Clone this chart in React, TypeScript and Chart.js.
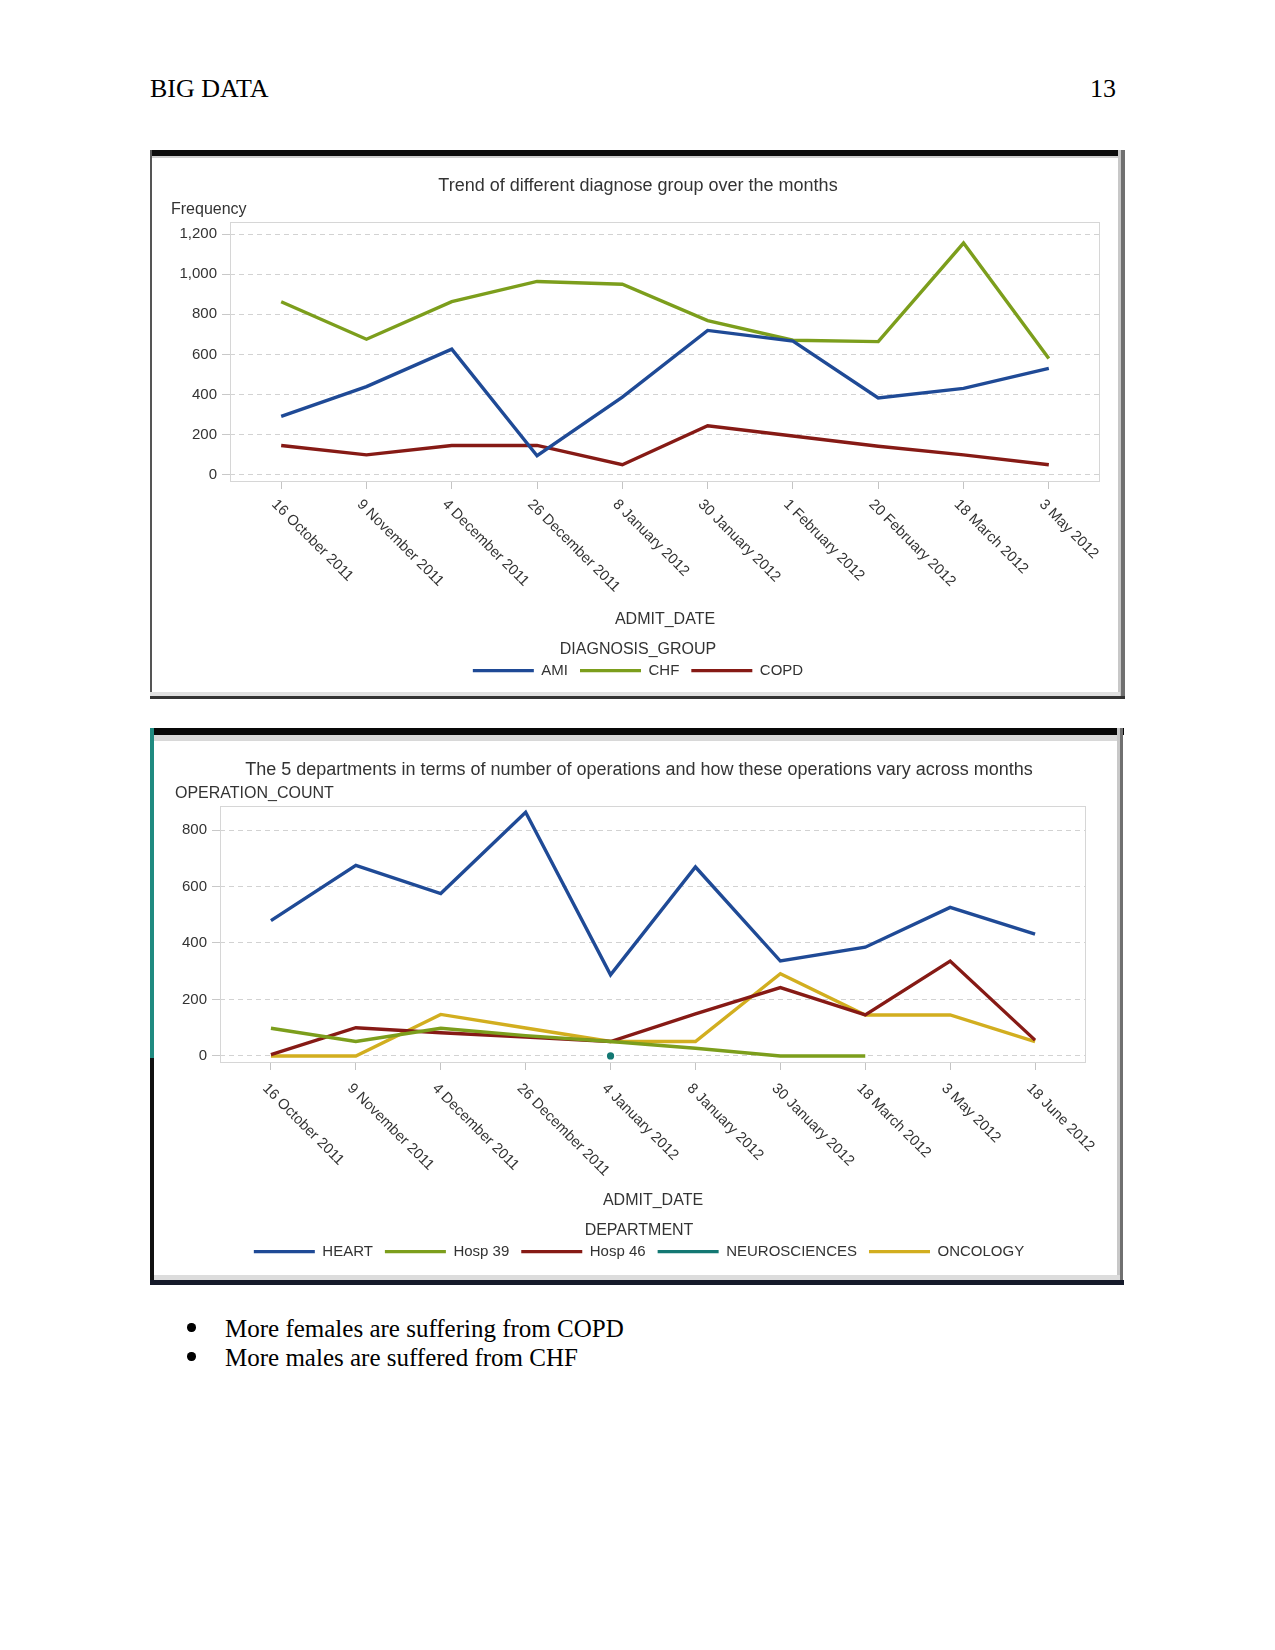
import React, { useEffect, useRef } from 'react';
import { Chart, registerables } from 'chart.js';

Chart.register(...registerables);

const SANS = '"Liberation Sans", Arial, sans-serif';
const SERIF = '"Liberation Serif", "Times New Roman", serif';

const HEADER_LEFT = 'BIG DATA';
const PAGE_NUMBER = '13';
const BULLETS = ['More females are suffering from COPD', 'More males are suffered from CHF'];

// ---- Chart 1 data ----
const CHART1_TITLE = 'Trend of different diagnose group over the months';
const CHART1_Y_LABEL = 'Frequency';
const CHART1_X_LABEL = 'ADMIT_DATE';
const CHART1_LEGEND_TITLE = 'DIAGNOSIS_GROUP';
const CHART1_DATES = [
  '16 October 2011', '9 November 2011', '4 December 2011', '26 December 2011', '8 January 2012',
  '30 January 2012', '1 February 2012', '20 February 2012', '18 March 2012', '3 May 2012',
];
const CHART1_Y_TICKS = [0, 200, 400, 600, 800, 1000, 1200];
const AMI = [292, 440, 627, 96, 388, 720, 667, 384, 431, 531];
const CHF = [863, 676, 863, 964, 950, 769, 671, 664, 1155, 580];
const COPD = [147, 100, 147, 147, 51, 245, 194, 143, 100, 51];

// ---- Chart 2 data ----
const CHART2_TITLE = 'The 5 departments in terms of number of operations and how these operations vary across months';
const CHART2_Y_LABEL = 'OPERATION_COUNT';
const CHART2_X_LABEL = 'ADMIT_DATE';
const CHART2_LEGEND_TITLE = 'DEPARTMENT';
const CHART2_DATES = [
  '16 October 2011', '9 November 2011', '4 December 2011', '26 December 2011', '4 January 2012',
  '8 January 2012', '30 January 2012', '18 March 2012', '3 May 2012', '18 June 2012',
];
const CHART2_Y_TICKS = [0, 200, 400, 600, 800];
const HEART = [479, 675, 575, 863, 287, 669, 336, 385, 526, 431];
const HOSP39 = [98, 51, 98, 72, 51, 27, 0, 0, null, null];
const HOSP46 = [5, 100, 82, 67, 51, 149, 242, 145, 336, 56];
const NEUROSCIENCES = [null, null, null, null, 0, null, null, null, null, null];
const ONCOLOGY = [0, 0, 147, 99, 51, 51, 291, 145, 145, 51];

const BLUE = '#1f4a96';
const GREEN = '#7c9e1c';
const RED = '#861a15';
const TEAL = '#137873';
const GOLD = '#d2ae1f';

type Series = { label: string; values: (number | null)[]; color: string; point?: boolean };

const decorPlugin = {
  id: 'sasDecor',
  beforeDatasetsDraw(chart: any) {
    const { ctx, chartArea: a } = chart;
    ctx.save();
    ctx.strokeStyle = '#d6d6d6';
    ctx.lineWidth = 1;
    ctx.strokeRect(a.left + 0.5, a.top + 0.5, a.right - a.left - 1, a.bottom - a.top - 1);
    ctx.restore();
  },
  afterDraw(chart: any, _args: any, opts: any) {
    const { ctx, chartArea: a } = chart;
    const xs = chart.scales.x;
    ctx.save();
    ctx.fillStyle = '#333';
    ctx.font = `14.7px ${SANS}`;
    ctx.textAlign = 'left';
    ctx.textBaseline = 'top';
    (opts.labels as string[]).forEach((lab, i) => {
      const x = xs.getPixelForValue(i);
      ctx.save();
      ctx.translate(x + opts.dx, a.bottom + opts.dy);
      ctx.rotate((45 * Math.PI) / 180);
      ctx.fillText(lab, 0, 0);
      ctx.restore();
    });
    ctx.font = `16px ${SANS}`;
    ctx.textBaseline = 'middle';
    ctx.fillText(opts.yLabel, a.left + opts.yLabelDx, a.top + opts.yLabelDy);
    ctx.restore();
  },
};

type PanelProps = {
  box: { left: number; top: number; width: number; height: number };
  title: string;
  yLabel: string;
  xLabel: string;
  legendTitle: string;
  dates: string[];
  series: Series[];
  yMin: number;
  yMax: number;
  yTicks: number[];
  padLeft: number;
  padRight: number;
  padBottom: number;
  yAxisWidth: number;
  rightSpace: number;
  yLabelDx: number;
  labelDx: number;
  labelDy: number;
};

function ChartPanel(p: PanelProps) {
  const ref = useRef<HTMLCanvasElement | null>(null);
  useEffect(() => {
    if (!ref.current) return;
    const scales: any = {
      x: {
        type: 'linear',
        min: -0.6,
        max: p.dates.length - 1 + 0.6,
        afterBuildTicks: (s: any) => {
          s.ticks = p.dates.map((_, i) => ({ value: i }));
        },
        afterFit: (s: any) => {
          s.height = 160;
        },
        grid: { drawOnChartArea: false, drawTicks: true, tickLength: 7, tickColor: '#c4c4c4', color: '#c4c4c4' },
        border: { display: false },
        ticks: { display: false },
        title: {
          display: true,
          text: p.xLabel,
          color: '#333',
          font: { family: SANS, size: 16 },
          padding: { top: 0, bottom: 12.8 },
        },
      },
      y: {
        min: p.yMin,
        max: p.yMax,
        afterBuildTicks: (s: any) => {
          s.ticks = p.yTicks.map((v) => ({ value: v }));
        },
        afterFit: (s: any) => {
          s.width = p.yAxisWidth;
        },
        grid: { color: '#d2d2d2', tickLength: 8, tickColor: '#c8c8c8', drawTicks: true },
        border: { display: false, dash: [5, 4] },
        ticks: { color: '#333', font: { family: SANS, size: 15 }, padding: 5 },
      },
    };
    if (p.rightSpace > 0) {
      scales.yRightSpace = {
        type: 'linear',
        position: 'right',
        display: true,
        grid: { display: false },
        border: { display: false },
        ticks: { display: false },
        afterFit: (s: any) => {
          s.width = p.rightSpace;
        },
      };
    }
    const chart = new Chart(ref.current, {
      type: 'line',
      data: {
        datasets: p.series.map((s) => ({
          label: s.label,
          data: s.values.map((v, i) => ({ x: i, y: v })),
          borderColor: s.color,
          backgroundColor: s.color,
          borderWidth: 3.4,
          pointRadius: s.point ? 3.6 : 0,
          pointBackgroundColor: s.color,
          pointBorderWidth: 0,
          tension: 0,
          spanGaps: false,
          yAxisID: 'y',
        })),
      },
      options: {
        responsive: false,
        animation: false,
        devicePixelRatio: 1,
        layout: { padding: { left: p.padLeft, right: p.padRight, top: 0, bottom: p.padBottom } },
        scales,
        plugins: {
          title: {
            display: true,
            text: p.title,
            color: '#333',
            font: { family: SANS, size: 18, weight: 'normal' },
            padding: { top: 17.2, bottom: 25.2 },
          },
          legend: {
            position: 'bottom',
            align: 'center',
            title: {
              display: true,
              text: p.legendTitle,
              color: '#333',
              font: { family: SANS, size: 16 },
              padding: { top: 0, bottom: -10.1 },
            },
            labels: {
              boxWidth: 61,
              boxHeight: 0,
              padding: 12,
              color: '#333',
              font: { family: SANS, size: 15 },
            },
          },
          tooltip: { enabled: false },
          sasDecor: {
            labels: p.dates,
            dx: p.labelDx,
            dy: p.labelDy,
            yLabel: p.yLabel,
            yLabelDx: p.yLabelDx,
            yLabelDy: -12,
          },
        } as any,
      },
      plugins: [decorPlugin],
    } as any);
    return () => chart.destroy();
  }, []);
  return (
    <canvas
      ref={ref}
      width={p.box.width}
      height={p.box.height}
      style={{ position: 'absolute', left: p.box.left, top: p.box.top, width: p.box.width, height: p.box.height }}
    />
  );
}

const abs = (left: number, top: number, width: number, height: number, background: string): React.CSSProperties => ({
  position: 'absolute',
  left,
  top,
  width,
  height,
  background,
});

const bulletDot = (cx: number, cy: number): React.CSSProperties => ({
  position: 'absolute',
  left: cx - 4.2,
  top: cy - 4.2,
  width: 8.4,
  height: 8.4,
  borderRadius: '50%',
  background: '#000',
});

export default function App() {
  return (
    <div style={{ position: 'absolute', left: 0, top: 0, width: 1275, height: 1650, overflow: 'hidden', background: '#fff' }}>
      <div style={{ position: 'absolute', left: 150, top: 75, fontFamily: SERIF, fontSize: 26, lineHeight: '28px', color: '#000' }}>
        {HEADER_LEFT}
      </div>
      <div style={{ position: 'absolute', right: 1275 - 1116, top: 75, fontFamily: SERIF, fontSize: 26, lineHeight: '28px', color: '#000' }}>
        {PAGE_NUMBER}
      </div>

      {/* Frame 1 */}
      <div style={abs(150, 150, 975, 549, '#fff')} />
      <div style={abs(150, 150, 968, 6, '#0c0c0c')} />
      <div style={abs(152, 156, 966, 2, '#cfcfcf')} />
      <div style={abs(150, 150, 2, 549, '#555')} />
      <div style={abs(1118, 150, 3, 549, '#c8c8c8')} />
      <div style={abs(1121, 150, 4, 549, '#707070')} />
      <div style={abs(150, 692, 970, 4, '#e0e0e0')} />
      <div style={abs(150, 696, 975, 3, '#333')} />
      <ChartPanel
        box={{ left: 153, top: 158, width: 964, height: 533 }}
        title={CHART1_TITLE}
        yLabel={CHART1_Y_LABEL}
        xLabel={CHART1_X_LABEL}
        legendTitle={CHART1_LEGEND_TITLE}
        dates={CHART1_DATES}
        series={[
          { label: 'AMI', values: AMI, color: BLUE },
          { label: 'CHF', values: CHF, color: GREEN },
          { label: 'COPD', values: COPD, color: RED },
        ]}
        yMin={-35}
        yMax={1260}
        yTicks={CHART1_Y_TICKS}
        padLeft={23}
        padRight={17}
        padBottom={2.9}
        yAxisWidth={54}
        rightSpace={0}
        yLabelDx={-59}
        labelDx={-2}
        labelDy={15}
      />

      {/* Frame 2 */}
      <div style={abs(150, 728, 974, 557, '#fff')} />
      <div style={abs(150, 728, 974, 7, '#080808')} />
      <div style={abs(154, 735, 963, 6, '#d8d8d8')} />
      <div style={abs(150, 728, 4, 330, '#1f8a80')} />
      <div style={abs(150, 1058, 4, 227, '#111')} />
      <div style={abs(1117, 728, 3, 557, '#c8c8c8')} />
      <div style={abs(1120, 728, 3, 557, '#707070')} />
      <div style={abs(154, 1275, 966, 5, '#dcdcdc')} />
      <div style={abs(150, 1280, 974, 5, '#151a2a')} />
      <ChartPanel
        box={{ left: 155, top: 742, width: 962, height: 532 }}
        title={CHART2_TITLE}
        yLabel={CHART2_Y_LABEL}
        xLabel={CHART2_X_LABEL}
        legendTitle={CHART2_LEGEND_TITLE}
        dates={CHART2_DATES}
        series={[
          { label: 'HEART', values: HEART, color: BLUE },
          { label: 'Hosp 39', values: HOSP39, color: GREEN },
          { label: 'Hosp 46', values: HOSP46, color: RED },
          { label: 'NEUROSCIENCES', values: NEUROSCIENCES, color: TEAL, point: true },
          { label: 'ONCOLOGY', values: ONCOLOGY, color: GOLD },
        ]}
        yMin={-25}
        yMax={885}
        yTicks={CHART2_Y_TICKS}
        padLeft={20}
        padRight={14}
        padBottom={4.9}
        yAxisWidth={45}
        rightSpace={17}
        yLabelDx={-45}
        labelDx={-1}
        labelDy={18}
      />

      {BULLETS.map((b, i) => (
        <React.Fragment key={i}>
          <div style={bulletDot(191.5, 1327.5 + i * 29)} />
          <div style={{ position: 'absolute', left: 225, top: 1315 + i * 28.5, fontFamily: SERIF, fontSize: 25, lineHeight: '28px' }}>
            {b}
          </div>
        </React.Fragment>
      ))}
    </div>
  );
}
